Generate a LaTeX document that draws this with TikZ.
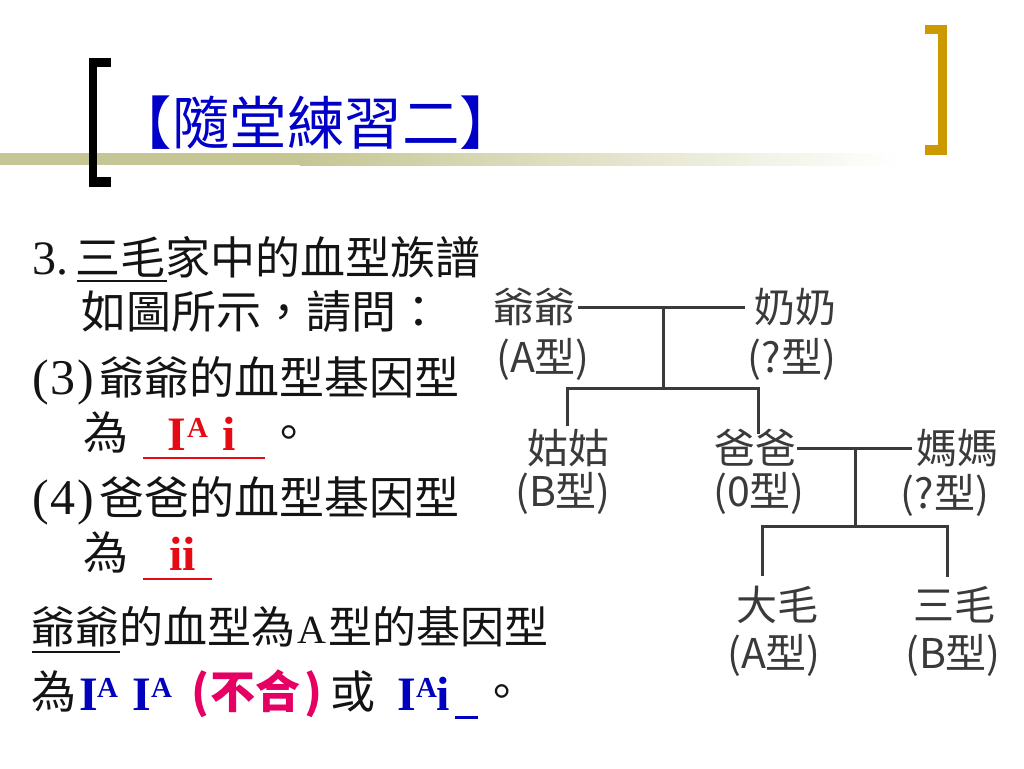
\documentclass[tikz,border=0pt]{standalone}
\usepackage{fontspec}
\setmainfont{Liberation Serif}
\newfontfamily\cjk{Noto Sans CJK TC}
\definecolor{khaki}{RGB}{198,198,148}
\definecolor{gold}{RGB}{204,153,0}
\definecolor{titleblue}{RGB}{0,0,200}
\definecolor{bodyblack}{RGB}{20,20,20}
\definecolor{ansred}{RGB}{230,10,20}
\definecolor{ansblue}{RGB}{0,0,190}
\definecolor{magent}{RGB}{230,0,100}
\definecolor{treegray}{RGB}{58,58,58}
\begin{document}
\begin{tikzpicture}[x=1pt,y=-1pt,
  txt/.style={inner sep=0pt, outer sep=0pt, anchor=base west, text=bodyblack},
  cj/.style={txt, font=\cjk\fontsize{45}{45}\selectfont},
  cjs/.style={txt, font=\cjk\fontsize{44}{44}\selectfont},
  lat/.style={txt, font=\fontsize{48}{48}\selectfont},
  ans/.style={txt, font=\bfseries\fontsize{48}{48}\selectfont, text=ansred},
  supa/.style={txt, font=\bfseries\fontsize{29}{29}\selectfont, text=ansred},
  tn/.style={inner sep=0pt, outer sep=0pt, font=\cjk\fontsize{41}{41}\selectfont, text=treegray},
  link/.style={line width=3pt, draw=treegray},
  uline/.style={line width=2pt}]
\useasboundingbox (0,0) rectangle (1024,768);
\fill[white] (0,0) rectangle (1024,768);

% title decoration
\fill[khaki] (0,153) rectangle (300,165);
\shade[left color=khaki, right color=white] (299.5,153) rectangle (900,165);
\fill[black] (89,58) rectangle (97,187);
\fill[black] (89,58) rectangle (111,67);
\fill[black] (89,177) rectangle (111,187);
\fill[gold] (938,25) rectangle (947,155);
\fill[gold] (925,25) rectangle (947,34);
\fill[gold] (925,145) rectangle (947,155);
\node[inner sep=0pt, font=\cjk\fontsize{57.5}{57.5}\selectfont, text=titleblue] (title) at (316,123) {【隨堂練習二】};

% left text
\node[lat] (l1a) at (32,274) {3.};
\node[cj] (l1b) at (75,274) {三毛家中的血型族譜};
\draw[uline, bodyblack] (77,281) -- (167,281);
\node[cj] (l2) at (81,328) {如圖所示，請問：};

\node[lat, font=\fontsize{50}{50}\selectfont] (l3a) at (32,394) {(\kern2pt3\kern2pt)};
\node[cj] (l3b) at (99,394) {爺爺的血型基因型};
\node[cj] (l4a) at (83,449) {為};
\node[ans] (l4i) at (167,450) {I};
\node[supa] (l4s) at (187,437) {A};
\node[ans] (l4j) at (222,450) {i};
\draw[uline, ansred] (143,458) -- (265,458);
\node[cj] (l4d) at (266,449) {。};

\node[lat, font=\fontsize{50}{50}\selectfont] (l5a) at (32,514) {(\kern2pt4\kern2pt)};
\node[cj] (l5b) at (99,514) {爸爸的血型基因型};
\node[cj] (l6a) at (83,569) {為};
\node[ans] (l6i) at (169,570) {ii};
\draw[uline, ansred] (143,579) -- (212,579);

\node[cjs] (l7a) at (31,643) {爺爺的血型為};
\node[lat, font=\fontsize{40}{40}\selectfont] (l7b) at (297,643) {A};
\node[cjs] (l7c) at (328,643) {型的基因型};
\draw[uline, bodyblack] (32,652) -- (120,652);

\node[cj] (l8a) at (31,708) {為};
\node[ans, text=ansblue] (l8i1) at (79,710) {I};
\node[supa, text=ansblue] (l8s1) at (97,697) {A};
\node[ans, text=ansblue] (l8i2) at (132,710) {I};
\node[supa, text=ansblue] (l8s2) at (151,697) {A};
\node[cj, text=magent, font=\cjk\bfseries\fontsize{45}{45}\selectfont] (l8p1) at (191,708) {(};
\node[cj, text=magent, font=\cjk\bfseries\fontsize{45}{45}\selectfont] (l8p2) at (210,708) {不合};
\node[cj, text=magent, font=\cjk\bfseries\fontsize{45}{45}\selectfont] (l8p3) at (304,708) {)};
\node[cj] (l8b) at (330,708) {或};
\node[ans, text=ansblue] (l8i3) at (397,710) {I};
\node[supa, text=ansblue] (l8s3) at (416,697) {A};
\node[ans, text=ansblue] (l8j3) at (436,710) {i};
\draw[line width=3pt, ansblue] (455,717) -- (478,717);
\node[cj] (l8d) at (479,708) {。};

% pedigree
\node[tn] (yeye) at (534,307) {爺爺};
\node[tn] (yeyeT) at (543,359) {(A型)};
\node[tn] (nainai) at (795,307) {奶奶};
\node[tn] (nainaiT) at (792,359) {(?型)};
\node[tn] (gugu) at (568,448) {姑姑};
\node[tn] (guguT) at (563,493) {(B型)};
\node[tn] (baba) at (755,448) {爸爸};
\node[tn] (babaT) at (759,493) {(0型)};
\node[tn] (mama) at (957,448) {媽媽};
\node[tn] (mamaT) at (945,495) {(?型)};
\node[tn] (damao) at (777,605) {大毛};
\node[tn] (damaoT) at (774,655) {(A型)};
\node[tn] (sanmao) at (954,605) {三毛};
\node[tn] (sanmaoT) at (953,655) {(B型)};

\coordinate (m1) at (663,307);
\coordinate (j1) at (663,388);
\coordinate (m2) at (855,448);
\coordinate (j2) at (855,526);

\draw[link] ([xshift=3pt]yeye.east) -- ([xshift=-9pt]nainai.west);
\draw[link] (m1) -- (j1);
\draw[link] ([xshift=-1pt,yshift=3pt]gugu.north) |- (j1) -| ([xshift=3pt,yshift=-5pt]baba.north);
\draw[link] ([xshift=1pt]baba.east) -- ([xshift=-4pt]mama.west);
\draw[link] (m2) -- (j2);
\draw[link] ([xshift=-15pt,yshift=10pt]damao.north) |- (j2) -| ([xshift=-7pt,yshift=10pt]sanmao.north);
\end{tikzpicture}
\end{document}
